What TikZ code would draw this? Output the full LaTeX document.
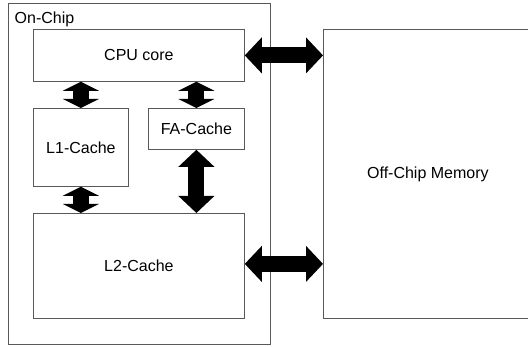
\documentclass[tikz,border=0pt]{standalone}
\usepackage{fontspec}
\setmainfont{Liberation Sans}
\usetikzlibrary{arrows.meta}

\tikzset{
  blockbox/.style={rectangle, draw=black!65, line width=0.8pt, anchor=north west,
    inner sep=0pt, font=\fontsize{16}{19}\selectfont},
  bus/.style={line width=16pt, black,
    arrows={Triangle[width=36pt,length=#1,line width=0pt]-Triangle[width=36pt,length=#1,line width=0pt]}},
  bus/.default=17pt
}

\begin{document}
\begin{tikzpicture}[x=1pt, y=-1pt]
\clip (0,0) rectangle (528,347);
\fill[white] (0,0) rectangle (528,347);

\node[blockbox, minimum width=262pt, minimum height=341pt] (chip) at (8,3) {};
\node[anchor=base west, inner sep=0pt, font=\fontsize{16}{19}\selectfont] (chiplabel) at (14.5,24) {On-Chip};

\node[blockbox, minimum width=211pt, minimum height=52pt] (cpu) at (33,29) {CPU core};
\node[blockbox, minimum width=95pt, minimum height=78pt] (l1) at (33,108) {L1-Cache};
\node[blockbox, minimum width=96pt, minimum height=41pt] (fa) at (148,108) {FA-Cache};
\node[blockbox, minimum width=211pt, minimum height=105pt] (l2) at (33,213) {L2-Cache};
\node[blockbox, minimum width=209pt, minimum height=289pt] (mem) at (323,29) {Off-Chip Memory};

% buses
\draw[bus=9pt] (cpu.south -| l1.north) -- (l1.north);
\draw[bus=9pt] (cpu.south -| fa.north) -- (fa.north);
\draw[bus=9pt] (l1.south) -- (l1.south |- l2.north);
\draw[bus] (fa.south) -- (fa.south |- l2.north);
\draw[bus] (cpu.east) -- (cpu.east -| mem.west);
\draw[bus] ([yshift=2pt]l2.east) -- ([yshift=2pt]l2.east -| mem.west);
\end{tikzpicture}
\end{document}
